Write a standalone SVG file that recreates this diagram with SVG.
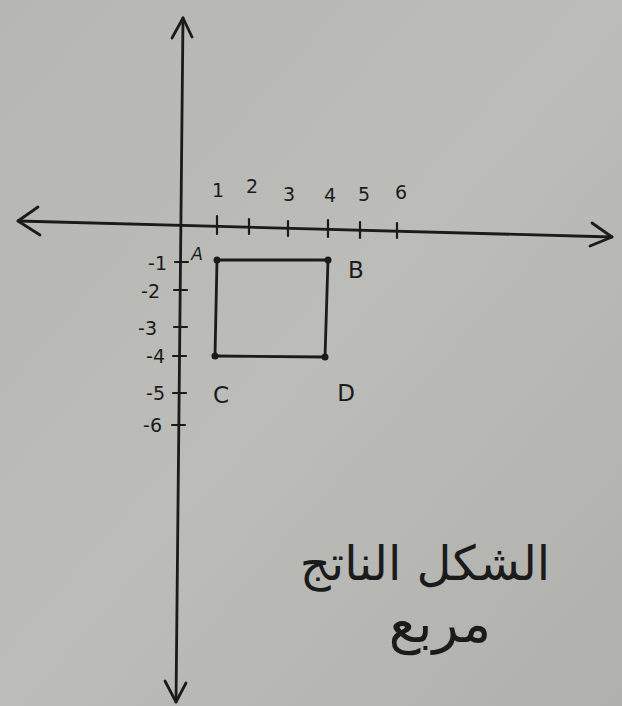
<svg xmlns="http://www.w3.org/2000/svg" width="622" height="706" viewBox="0 0 622 706">
<defs>
<linearGradient id="bg" x1="0" y1="0" x2="1" y2="1">
<stop offset="0" stop-color="#b6b7b3"/>
<stop offset="0.5" stop-color="#bcbdb9"/>
<stop offset="1" stop-color="#b0b1ad"/>
</linearGradient>
</defs>
<style>
.ink{stroke:#1b1b1b;stroke-width:2.8;fill:none;stroke-linecap:round;stroke-linejoin:round}
.thin{stroke:#1b1b1b;stroke-width:2.2;fill:none;stroke-linecap:round}
.t{font-family:"DejaVu Sans","Liberation Sans",sans-serif;fill:#1b1b1b;font-size:19px}
.big{font-size:23px}
.small{font-size:17px;font-style:italic}
.ar{font-family:"DejaVu Sans","Noto Sans",sans-serif;fill:#1b1b1b;font-size:48px}
.ar2{font-size:54px}
.dot{fill:#1b1b1b}
</style>
<rect x="0" y="0" width="622" height="706" fill="url(#bg)"/>
<g id="axes">
<path class="ink" d="M183,18 L176,702"/>
<path class="ink" d="M172,38 L183,18 L192,37"/>
<path class="ink" d="M165,681 L176,702 L186,683"/>
<path class="ink" d="M18,221 L612,237"/>
<path class="ink" d="M38,207 L18,221 L40,235"/>
<path class="ink" d="M592,223 L612,237 L590,246"/>
</g>
<g id="x-ticks">
<path class="thin" d="M217,216 V234 M249,219 V234 M288,221 V236 M328,220 V237 M360,222 V238 M397,223 V238"/>
<text class="t" x="218" y="197" text-anchor="middle">1</text>
<text class="t" x="252" y="193" text-anchor="middle">2</text>
<text class="t" x="289" y="201" text-anchor="middle">3</text>
<text class="t" x="330" y="202" text-anchor="middle">4</text>
<text class="t" x="364" y="201" text-anchor="middle">5</text>
<text class="t" x="401" y="199" text-anchor="middle">6</text>
</g>
<g id="y-ticks">
<path class="thin" d="M175,262 H188 M174,290 H187 M174,327 H187 M173,356 H186 M173,393 H186 M172,425 H185"/>
<text class="t" x="167" y="270" text-anchor="end">-1</text>
<text class="t" x="160" y="298" text-anchor="end">-2</text>
<text class="t" x="157" y="335" text-anchor="end">-3</text>
<text class="t" x="165" y="363" text-anchor="end">-4</text>
<text class="t" x="165" y="400" text-anchor="end">-5</text>
<text class="t" x="162" y="432" text-anchor="end">-6</text>
</g>
<g id="connectors">
<path class="ink" d="M217,260 L328,260"/>
<path class="ink" d="M328,260 L325,357"/>
<path class="ink" d="M325,357 L215,356"/>
<path class="ink" d="M215,356 L217,260"/>
</g>
<g id="A"><circle class="dot" cx="217" cy="260" r="3.5"/><text class="t small" x="197" y="260" text-anchor="middle">A</text></g>
<g id="B"><circle class="dot" cx="328" cy="260" r="3.5"/><text class="t big" x="356" y="278" text-anchor="middle">B</text></g>
<g id="C"><circle class="dot" cx="215" cy="356" r="3.5"/><text class="t big" x="221" y="403" text-anchor="middle">C</text></g>
<g id="D"><circle class="dot" cx="325" cy="357" r="3.5"/><text class="t big" x="346" y="401" text-anchor="middle">D</text></g>
<g id="caption">
<text class="ar" x="425" y="580" text-anchor="middle">الشكل الناتج</text>
<text class="ar ar2" x="440" y="642" text-anchor="middle">مربع</text>
</g>
</svg>
